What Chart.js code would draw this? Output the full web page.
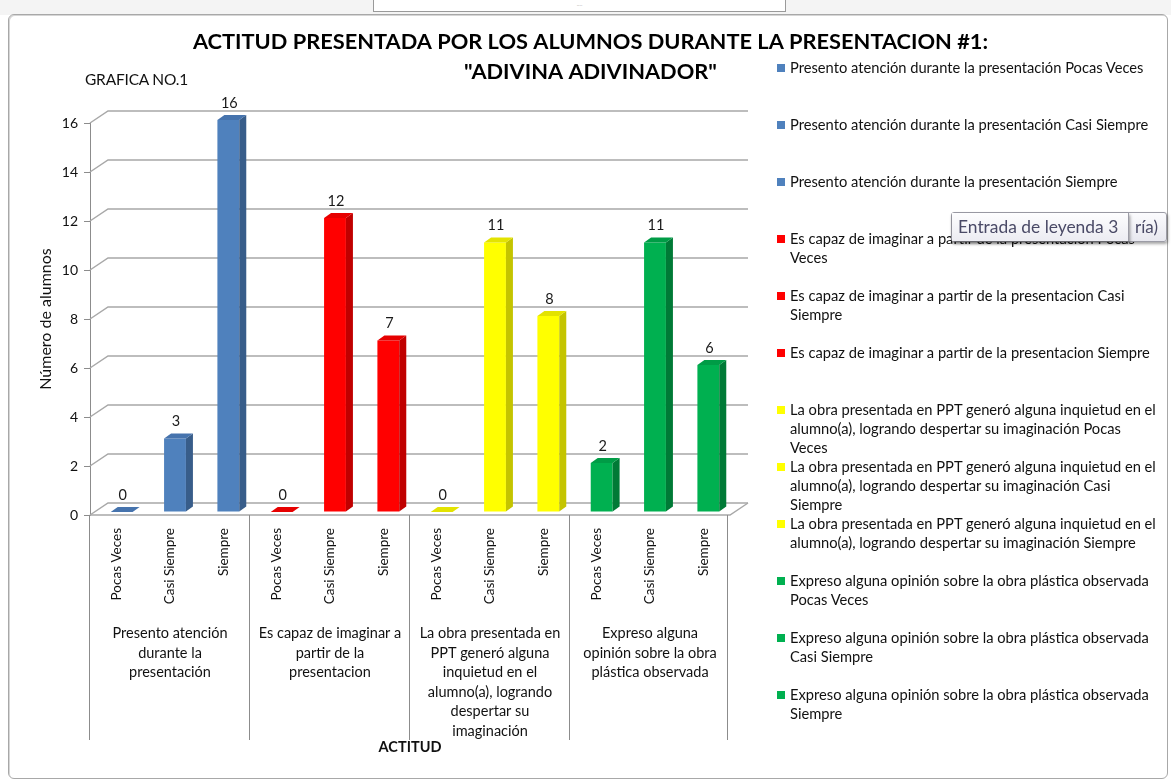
<!DOCTYPE html>
<html>
<head>
<meta charset="utf-8">
<script src="https://cdn.jsdelivr.net/npm/chart.js@4.4.1/dist/chart.umd.min.js"></script>
<style>
  html, body { margin: 0; padding: 0; background: #fff; overflow: hidden; }
  body { width: 1171px; height: 783px; position: relative; font-family: Lato, "Noto Sans", sans-serif; }
  #topbar { position: absolute; left: 0; top: 0; width: 1171px; height: 15px; background: #f4f4f4; }
  #tab { position: absolute; left: 373px; top: 0; width: 411px; height: 11px; background: #fff;
         border: 1px solid #9a9a9a; border-top: none; font-size: 6px; color: #aaa; text-align: center; line-height: 8px; }
  #frame { position: absolute; left: 8px; top: 14px; width: 1158px; height: 763px; background: #fff;
           border: 1px solid #a8a8a8; border-radius: 6px; box-shadow: inset 1px 1px 0 #d6d6d6; }
  #wrap { position: absolute; left: 10px; top: 0; width: 1161px; height: 783px; }
  #subtitle { position: absolute; left: 85px; top: 70px; font-size: 15.5px; color: #111; letter-spacing: -0.2px; }
  #legend { position: absolute; left: 776px; top: 58px; width: 392px; margin: 0; padding: 0; list-style: none; }
  #legend li { height: 57px; position: relative; padding-left: 14px; font-size: 14.7px; line-height: 19px;
               color: #111; width: 369px; }
  #legend li span { position: absolute; left: 1px; top: 6px; width: 8px; height: 8px; }
  #tip { position: absolute; left: 951px; top: 212px; width: 214px; height: 28px; background: linear-gradient(#fbfbfd, #e8e8ef);
         border: 1px solid #9c9ca6; border-radius: 3px; box-shadow: 1px 2px 3px rgba(0,0,0,0.35); }
  #tip .rest { position: absolute; right: 8px; top: 3px; font-size: 17px; color: #4a4a66; }
  #tip .inner { position: absolute; left: 0; top: 0; width: 177px; height: 28px; background: linear-gradient(#fdfdfe, #ececf2);
                border-right: 1px solid #9c9ca6; box-shadow: 1px 2px 3px rgba(0,0,0,0.4); font-size: 17.4px; color: #4a4a66;
                line-height: 28px; padding-left: 6px; box-sizing: border-box; white-space: nowrap; }
</style>
</head>
<body>
<div id="topbar"><div id="tab">....</div></div>
<div id="frame"></div>
<div id="wrap"><canvas id="actitudChart"></canvas></div>
<div id="subtitle">GRAFICA NO.1</div>
<ul id="legend"></ul>
<div id="tip"><div class="rest">ría)</div><div class="inner">Entrada de leyenda 3</div></div>
<script>
// datos
const levels = ['Pocas Veces', 'Casi Siempre', 'Siempre'];
const groupLines = [
    ['Presento atención', 'durante la', 'presentación'],
    ['Es capaz de imaginar a', 'partir de la', 'presentacion'],
    ['La obra presentada en', 'PPT generó alguna', 'inquietud en el', 'alumno(a), logrando', 'despertar su', 'imaginación'],
    ['Expreso alguna', 'opinión sobre la obra', 'plástica observada']
];
const values = [0, 3, 16, 0, 12, 7, 0, 11, 8, 2, 11, 6];
const yTicks = { min: 0, max: 16, step: 2 };
const titleLines = ['ACTITUD PRESENTADA POR LOS ALUMNOS DURANTE LA PRESENTACION #1:', '"ADIVINA ADIVINADOR"'];

const frontColors = ['#4f81bd', '#ff0000', '#ffff00', '#00b050'];
const topColors = ['#4673ad', '#e60000', '#e3e300', '#009c46'];
const sideColors = ['#385d8a', '#c00000', '#c4c400', '#007a36'];

const xLabels = [];
const barColors = [];
groupLines.forEach((g, gi) => levels.forEach(l => { xLabels.push(l); barColors.push(gi); }));

// leyenda
const legend = document.getElementById('legend');
groupLines.forEach((g, gi) => levels.forEach(l => {
    const li = document.createElement('li');
    const sw = document.createElement('span');
    sw.style.background = frontColors[gi];
    li.appendChild(sw);
    li.appendChild(document.createTextNode(g.join(' ') + ' ' + l));
    legend.appendChild(li);
}));

// 3D look
const WX = 18, WY = -12;   // back wall offset
const BX = 5, BY = -3;     // bar front offset
const SX = 7, SY = -5;     // bar depth

const depth3d = {
    id: 'depth3d',
    beforeDatasetsDraw(chart) {
        const { ctx, chartArea: a, scales } = chart;
        const y = scales.y, x2 = scales.x2;
        ctx.save();
        ctx.strokeStyle = '#a8a8a8';
        ctx.lineWidth = 1.5;
        y.ticks.forEach(t => {
            const py = y.getPixelForValue(t.value);
            ctx.beginPath();
            ctx.moveTo(a.left, py);
            ctx.lineTo(a.left + WX, py + WY);
            ctx.lineTo(a.right + WX, py + WY);
            ctx.stroke();
        });
        const p0 = y.getPixelForValue(0);
        ctx.beginPath();
        ctx.moveTo(a.left, p0);
        ctx.lineTo(a.right, p0);
        ctx.lineTo(a.right + WX, p0 + WY);
        ctx.stroke();
        // separadores de grupo
        ctx.strokeStyle = '#8c8c8c';
        ctx.lineWidth = 1;
        const cw = (a.right - a.left) / xLabels.length;
        for (let g = 0; g <= groupLines.length; g++) {
            const px = Math.round(a.left + g * 3 * cw) - 0.5 - (g === groupLines.length ? 2 : 0);
            ctx.beginPath();
            ctx.moveTo(px, p0);
            ctx.lineTo(px, x2.bottom - 23);
            ctx.stroke();
        }
        ctx.restore();
        ctx.save();
        ctx.translate(BX, BY);
    },
    afterDatasetsDraw(chart) {
        const { ctx } = chart;
        const meta = chart.getDatasetMeta(0);
        meta.data.forEach((el, i) => {
            const { x, y, base, width } = el.getProps(['x', 'y', 'base', 'width'], true);
            const l = x - width / 2, r = x + width / 2;
            const c = barColors[i];
            ctx.fillStyle = sideColors[c];
            ctx.beginPath();
            ctx.moveTo(r, y); ctx.lineTo(r + SX, y + SY); ctx.lineTo(r + SX, base + SY); ctx.lineTo(r, base);
            ctx.closePath(); ctx.fill();
            ctx.fillStyle = topColors[c];
            ctx.beginPath();
            ctx.moveTo(l, y); ctx.lineTo(l + SX, y + SY); ctx.lineTo(r + SX, y + SY); ctx.lineTo(r, y);
            ctx.closePath(); ctx.fill();
        });
        ctx.restore();
        ctx.save();
        ctx.font = '14.5px Lato';
        ctx.fillStyle = '#1a1a1a';
        ctx.textAlign = 'center';
        ctx.textBaseline = 'middle';
        meta.data.forEach((el, i) => {
            const { x, y } = el.getProps(['x', 'y'], true);
            ctx.fillText(String(values[i]), x + BX + 1, y + BY - 17);
        });
        ctx.restore();
    }
};

window.onload = function () {
    const ctx = document.getElementById('actitudChart').getContext('2d');
    new Chart(ctx, {
        type: 'bar',
        data: {
            labels: xLabels,
            datasets: [{
                data: values,
                backgroundColor: barColors.map(c => frontColors[c]),
                borderWidth: 0,
                barPercentage: 0.41,
                categoryPercentage: 1,
                clip: false
            }]
        },
        options: {
            responsive: true,
            maintainAspectRatio: false,
            animation: false,
            layout: { padding: { top: 0, left: 0, right: 0, bottom: 20 } },
            plugins: {
                legend: { display: false },
                tooltip: { enabled: false },
                title: {
                    display: true,
                    text: titleLines,
                    color: '#000',
                    font: { family: 'Lato', size: 21.8, weight: 'bold', lineHeight: '30px' },
                    padding: { top: 27, bottom: 36 }
                }
            },
            scales: {
                x: {
                    type: 'category',
                    position: 'bottom',
                    offset: true,
                    grid: { display: false },
                    border: { display: false },
                    ticks: { autoSkip: false, minRotation: 90, maxRotation: 90, padding: 5, color: '#111',
                             font: { family: 'Lato', size: 13.5 } },
                    afterFit(s) { s.height = 100; }
                },
                x2: {
                    type: 'category',
                    position: 'bottom',
                    labels: groupLines,
                    offset: true,
                    grid: { display: false },
                    border: { display: false },
                    ticks: { autoSkip: false, minRotation: 0, maxRotation: 0, padding: 1, color: '#111',
                             font: { family: 'Lato', size: 14.5, lineHeight: '19.5px' } },
                    title: { display: true, text: 'ACTITUD', color: '#111',
                             font: { family: 'Lato', size: 14.5, weight: 'bold' }, padding: { top: 0, bottom: 7 } },
                    afterFit(s) { s.height = 148; }
                },
                y: {
                    position: 'left',
                    min: yTicks.min,
                    max: yTicks.max,
                    ticks: { stepSize: yTicks.step, padding: 6, color: '#111', font: { family: 'Lato', size: 14 } },
                    grid: { drawOnChartArea: false, tickLength: 6, color: '#8c8c8c' },
                    border: { color: '#8c8c8c' },
                    title: { display: true, text: 'Número de alumnos', color: '#111',
                             font: { family: 'Lato', size: 16 }, padding: { top: 26 } },
                    afterFit(s) { s.width = 80; }
                },
                y2: {
                    position: 'right',
                    min: 0, max: 1,
                    grid: { display: false },
                    border: { display: false },
                    ticks: { display: false },
                    afterFit(s) { s.width = 441; }
                }
            }
        },
        plugins: [depth3d]
    });
};
</script>
</body>
</html>
